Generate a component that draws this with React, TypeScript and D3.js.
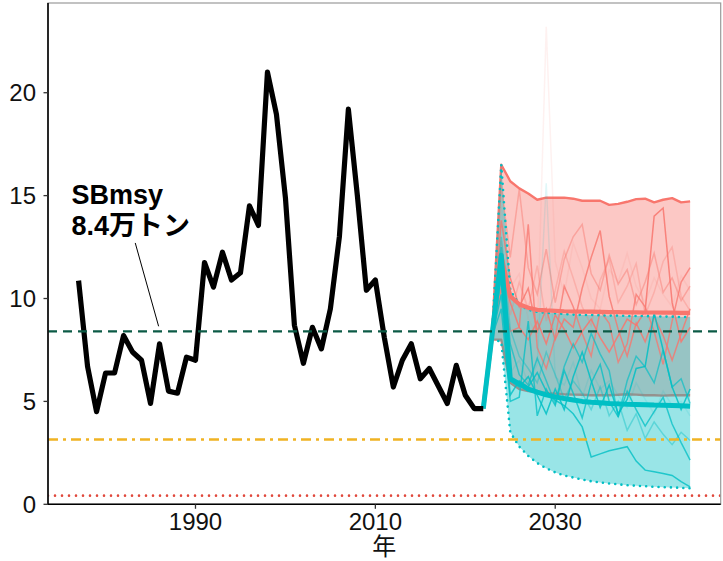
import React from "react";
import * as d3 from "d3";

// Observed spawning biomass (10,000 t), 1977-2022
const obsYears = d3.range(1977, 2023);
const obsValues = [
  10.87, 6.7, 4.5, 6.38, 6.38, 8.2, 7.4, 7.0, 4.9, 7.8,
  5.5, 5.4, 7.15, 7.0, 11.75, 10.55, 12.25, 10.9, 11.25, 14.5,
  13.55, 21.0, 18.95, 14.9, 8.7, 6.85, 8.6, 7.55, 9.5, 13.0,
  19.2, 15.0, 10.4, 10.9, 8.1, 5.7, 7.0, 7.8, 6.1, 6.6,
  5.75, 4.9, 6.75, 5.3, 4.65, 4.65,
];

// Projection years
const projYears = d3.range(2023, 2046);

// Scenario A (red): current fishing pressure
const redMean = [8.3, 12.1, 10.1, 9.72, 9.55, 9.45, 9.42, 9.4, 9.38, 9.37, 9.36, 9.36, 9.35, 9.34, 9.34, 9.33, 9.33, 9.32, 9.32, 9.31, 9.31, 9.3, 9.3];
const redUpper = [8.4, 16.5, 15.7, 15.35, 15.1, 14.8, 14.9, 14.9, 14.9, 14.85, 14.75, 14.75, 14.75, 14.55, 14.6, 14.7, 14.83, 14.85, 14.67, 14.8, 14.88, 14.67, 14.72];
const redLower = [8.0, 8.0, 5.9, 5.6, 5.5, 5.45, 5.4, 5.38, 5.35, 5.33, 5.32, 5.3, 5.3, 5.3, 5.32, 5.35, 5.33, 5.3, 5.3, 5.28, 5.3, 5.3, 5.3];

// Scenario B (cyan): harvest control rule
const cyanMean = [8.3, 12.1, 6.1, 5.85, 5.6, 5.45, 5.32, 5.22, 5.14, 5.07, 5.0, 4.96, 4.93, 4.9, 4.88, 4.86, 4.85, 4.84, 4.82, 4.81, 4.8, 4.79, 4.77];
const cyanUpper = [8.4, 16.5, 10.4, 9.7, 9.45, 9.35, 9.3, 9.28, 9.25, 9.22, 9.2, 9.2, 9.18, 9.17, 9.17, 9.15, 9.15, 9.15, 9.13, 9.12, 9.12, 9.1, 9.1];
const cyanLower = [8.0, 7.9, 3.5, 2.8, 2.35, 2.0, 1.75, 1.55, 1.4, 1.3, 1.2, 1.12, 1.06, 1.01, 0.97, 0.93, 0.9, 0.88, 0.85, 0.83, 0.82, 0.8, 0.78];

// Individual simulation runs
const redRuns = [
  [8.2, 11.5, 9.8, 8.6, 8.0, 8.9, 7.8, 9.2, 8.5, 7.6, 8.4, 9.0, 8.1, 7.4, 8.2, 9.0, 8.7, 9.4, 14.0, 14.4, 9.8, 7.9, 8.6],
  [8.2, 13.8, 11.0, 9.6, 10.5, 8.4, 9.5, 8.0, 9.0, 8.6, 10.5, 12.0, 13.3, 10.1, 8.5, 7.2, 8.8, 7.9, 9.1, 8.2, 7.0, 8.3, 9.5],
  [8.2, 10.5, 8.4, 8.6, 13.6, 7.6, 6.6, 8.1, 10.6, 9.6, 8.3, 7.2, 9.4, 8.8, 6.9, 7.8, 10.2, 9.6, 8.4, 6.8, 8.9, 10.8, 11.5],
  [8.2, 15.5, 12.0, 15.3, 11.5, 10.2, 12.4, 9.8, 11.9, 13.0, 13.6, 11.2, 10.4, 12.1, 10.7, 11.4, 9.7, 10.8, 12.2, 10.3, 11.0, 9.9, 10.6],
  [8.2, 12.8, 9.2, 10.8, 9.5, 11.6, 8.9, 10.4, 12.3, 11.0, 9.6, 8.7, 10.9, 11.9, 9.8, 10.6, 11.7, 9.2, 10.3, 11.8, 12.5, 10.1, 9.4],
  [8.2, 14.5, 10.5, 11.2, 9.0, 8.2, 23.2, 11.8, 10.2, 12.7, 11.5, 10.0, 9.5, 11.4, 10.8, 12.2, 10.6, 9.8, 11.0, 10.2, 9.6, 11.1, 10.4],
];
const redRunAlpha = [0.85, 0.8, 0.75, 0.45, 0.3, 0.1];

const cyanRuns = [
  [8.2, 11.0, 6.0, 5.7, 6.2, 5.3, 4.4, 5.6, 4.6, 6.2, 7.4, 6.0, 4.7, 5.8, 4.4, 5.1, 6.6, 6.7, 9.3, 7.5, 5.7, 4.6, 5.6],
  [8.2, 10.2, 5.3, 6.0, 5.7, 6.4, 5.5, 5.06, 4.8, 4.4, 3.76, 2.3, 2.45, 2.6, 2.7, 2.8, 2.1, 1.66, 1.58, 1.5, 1.4, 1.1, 0.85],
  [8.2, 9.5, 5.0, 5.2, 8.9, 4.3, 5.6, 4.8, 6.5, 5.4, 4.2, 5.9, 6.8, 5.0, 4.25, 5.5, 4.6, 3.8, 4.5, 5.2, 3.9, 3.0, 2.15],
  [8.2, 12.5, 7.8, 6.3, 5.8, 7.1, 6.0, 4.9, 6.7, 7.8, 6.9, 8.3, 7.3, 6.5, 4.25, 6.0, 7.2, 6.67, 5.9, 7.5, 5.7, 6.1, 4.9],
  [8.2, 13.0, 8.5, 7.2, 6.6, 5.9, 7.4, 6.3, 5.1, 6.0, 5.4, 4.6, 5.7, 4.3, 5.0, 3.6, 4.4, 3.2, 4.0, 3.4, 2.9, 3.5, 3.1],
  [8.2, 11.8, 6.4, 7.0, 5.9, 6.8, 15.6, 6.2, 5.8, 6.9, 5.2, 6.5, 5.6, 6.0, 5.3, 4.7, 5.9, 5.1, 4.4, 5.5, 4.8, 5.0, 4.3],
];
const cyanRunAlpha = [0.85, 0.8, 0.75, 0.65, 0.4, 0.12];

// Reference points
const sbMsy = 8.4;
const sbLimit = 3.15;
const sbBan = 0.42;

const yTicks = [0, 5, 10, 15, 20];
const xTicks = [1990, 2010, 2030];

const RED = "#F8766D";
const CYAN = "#00BFC4";

export default function App() {
  const W = 723;
  const H = 561;
  const left = 48;
  const right = 720.7;
  const top = 3;
  const bottom = 504.3;

  const x = d3.scaleLinear().domain([1973.6, 2048.4]).range([left, right]);
  const y = d3.scaleLinear().domain([0, 24.36]).range([bottom, top]);

  type P = [number, number];
  const line = d3
    .line<P>()
    .x((d) => x(d[0]))
    .y((d) => y(d[1]));

  const pairs = (years: number[], vals: number[]): P[] =>
    years.map((yr, i) => [yr, vals[i]] as P);

  const bandArea = (lo: number[], hi: number[]) =>
    d3
      .area<number>()
      .x((yr) => x(yr))
      .y0((_, i) => y(lo[i]))
      .y1((_, i) => y(hi[i]))(projYears) || "";

  const lastYear = obsYears[obsYears.length - 1];
  const lastVal = obsValues[obsValues.length - 1];
  const withStart = (vals: number[]): P[] => [[lastYear, lastVal], ...pairs(projYears, vals)];

  const obsPath = line(pairs(obsYears, obsValues)) || "";

  const tickFont = "'Liberation Sans', Arial, sans-serif";
  const cjkFont = "'Liberation Sans', 'Noto Sans CJK JP', sans-serif";

  return (
    <svg
      width={W}
      height={H}
      viewBox={`0 0 ${W} ${H}`}
      style={{ position: "fixed", left: 0, top: 0, background: "#fff" }}
    >
      <rect x={0} y={0} width={W} height={H} fill="#fff" />
      <defs>
        <clipPath id="panel">
          <rect x={left} y={top} width={right - left} height={bottom - top} />
        </clipPath>
      </defs>

      <g clipPath="url(#panel)">
        {/* Scenario A band */}
        <path d={bandArea(redLower, redUpper)} fill={RED} fillOpacity={0.4} />
        <path d={line(pairs(projYears, redUpper)) || ""} fill="none" stroke={RED} strokeWidth={2.4} strokeLinejoin="round" />
        <path d={line(pairs(projYears, redLower)) || ""} fill="none" stroke={RED} strokeWidth={2.4} strokeLinejoin="round" />

        {/* Scenario B band */}
        <path d={bandArea(cyanLower, cyanUpper)} fill={CYAN} fillOpacity={0.4} />

        {/* Simulation runs */}
        {redRuns.map((run, i) => (
          <path
            key={`r${i}`}
            d={line(pairs(projYears, run)) || ""}
            fill="none"
            stroke={RED}
            strokeOpacity={redRunAlpha[i]}
            strokeWidth={1.5}
          />
        ))}
        {cyanRuns.map((run, i) => (
          <path
            key={`c${i}`}
            d={line(pairs(projYears, run)) || ""}
            fill="none"
            stroke={CYAN}
            strokeOpacity={cyanRunAlpha[i]}
            strokeWidth={1.5}
          />
        ))}

        {/* Scenario B band limits (dotted) */}
        <path d={line(pairs(projYears, cyanUpper)) || ""} fill="none" stroke={CYAN} strokeWidth={2.6} strokeDasharray="0 6.2" strokeLinecap="round" />
        <path d={line(pairs(projYears, cyanLower)) || ""} fill="none" stroke={CYAN} strokeWidth={2.6} strokeDasharray="0 6.2" strokeLinecap="round" />

        {/* Scenario means */}
        <path d={line(withStart(redMean)) || ""} fill="none" stroke={RED} strokeWidth={4.2} strokeLinejoin="round" />
        <path d={line(withStart(cyanMean)) || ""} fill="none" stroke={CYAN} strokeWidth={5} strokeLinejoin="round" />

        {/* Observed biomass */}
        <path d={obsPath} fill="none" stroke="#000" strokeWidth={5.2} strokeLinejoin="round" />

        {/* Reference lines */}
        <line x1={left} x2={right} y1={y(sbMsy)} y2={y(sbMsy)} stroke="#0B5A45" strokeWidth={2.2} strokeDasharray="9 6" />
        <line x1={left} x2={right} y1={y(sbLimit)} y2={y(sbLimit)} stroke="#F0B323" strokeWidth={2.4} strokeDasharray="10 5 3 5" />
        <line x1={left} x2={right} y1={y(sbBan)} y2={y(sbBan)} stroke="#E0483C" strokeWidth={2.6} strokeDasharray="0 7" strokeLinecap="round" />
      </g>

      {/* Panel border */}
      <rect x={left} y={top} width={right - left} height={bottom - top} fill="none" stroke="#9a9a9a" strokeWidth={1.2} />
      {/* Axis lines */}
      <line x1={left} x2={left} y1={top} y2={bottom} stroke="#000" strokeWidth={1.6} />
      <line x1={left} x2={right} y1={bottom} y2={bottom} stroke="#000" strokeWidth={1.6} />

      {/* Y axis */}
      {yTicks.map((t) => (
        <g key={`y${t}`}>
          <line x1={left - 4.5} x2={left} y1={y(t)} y2={y(t)} stroke="#333" strokeWidth={1.3} />
          <text
            x={left - 12}
            y={y(t)}
            textAnchor="end"
            dominantBaseline="central"
            fontFamily={tickFont}
            fontSize={24}
            fill="#111"
          >
            {t}
          </text>
        </g>
      ))}

      {/* X axis */}
      {xTicks.map((t) => (
        <g key={`x${t}`}>
          <line x1={x(t)} x2={x(t)} y1={bottom} y2={bottom + 4.5} stroke="#333" strokeWidth={1.3} />
          <text x={x(t)} y={bottom + 26} textAnchor="middle" fontFamily={tickFont} fontSize={24} fill="#111">
            {t}
          </text>
        </g>
      ))}

      {/* X axis title */}
      <text
        x={(left + right) / 2}
        y={555}
        textAnchor="middle"
        fontFamily="'Noto Sans CJK JP', sans-serif"
        fontSize={24}
        fill="#111"
      >
        年
      </text>

      {/* SBmsy annotation */}
      <line x1={x(1983.3)} y1={y(12.7)} x2={x(1985.9)} y2={y(8.65)} stroke="#000" strokeWidth={1} />
      <text x={71.5} y={204} fontFamily={cjkFont} fontWeight="bold" fontSize={27} fill="#000">
        SBmsy
      </text>
      <text x={71.5} y={235} fontFamily={cjkFont} fontWeight="bold" fontSize={27} fill="#000">
        8.4万トン
      </text>
    </svg>
  );
}
